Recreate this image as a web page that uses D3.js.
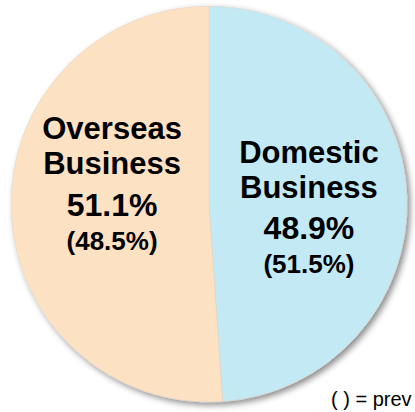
<!DOCTYPE html>
<html>
<head>
<meta charset="utf-8">
<script src="https://cdn.jsdelivr.net/npm/d3@7"></script>
<style>
  html, body { margin: 0; padding: 0; background: #ffffff; overflow: hidden; }
  svg { display: block; }
  text { font-family: "Liberation Sans", Arial, sans-serif; fill: #000; }
</style>
</head>
<body>
<svg id="chart" width="415" height="412"></svg>
<script>
// Sales composition by business segment, current year vs previous year
const segments = ["Domestic Business", "Overseas Business"];
const nameLines = [["Domestic", "Business"], ["Overseas", "Business"]];
const shares = [48.9, 51.1];
const prevShares = [51.5, 48.5];
const note = "( ) = prev";

const colors = { "Domestic Business": "#c3e9f5", "Overseas Business": "#fde1c3" };
// label block nudges (x, y of first baseline relative to slice centroid)
const labelNudge = { "Domestic Business": [0, -38], "Overseas Business": [3, -68] };

const width = 415, height = 412;
const cx = 209, cy = 204, radius = 198;

const svg = d3.select("#chart");

const defs = svg.append("defs");
const shadow = defs.append("filter")
  .attr("id", "pieShadow")
  .attr("x", "-10%").attr("y", "-10%")
  .attr("width", "125%").attr("height", "125%");
shadow.append("feDropShadow")
  .attr("dx", 3).attr("dy", 3)
  .attr("stdDeviation", 3)
  .attr("flood-color", "#000")
  .attr("flood-opacity", 0.45);

const data = segments.map((s, i) => ({ name: s, lines: nameLines[i], value: shares[i], prev: prevShares[i] }));

const pie = d3.pie().sort(null).value(d => d.value);
const arcs = pie(data);

const arc = d3.arc().innerRadius(0).outerRadius(radius);
const labelArc = d3.arc().innerRadius(100).outerRadius(100);

const g = svg.append("g").attr("transform", `translate(${cx},${cy})`);

g.append("g")
  .attr("filter", "url(#pieShadow)")
  .selectAll("path")
  .data(arcs)
  .join("path")
  .attr("d", arc)
  .attr("fill", d => colors[d.data.name])
  .attr("stroke", "#ddd3c8")
  .attr("stroke-width", 0.5);

const labels = g.selectAll("g.label")
  .data(arcs)
  .join("g")
  .attr("class", "label")
  .attr("transform", d => {
    const [x, y] = labelArc.centroid(d);
    const [nx, ny] = labelNudge[d.data.name];
    return `translate(${x + nx},${y + ny})`;
  });

labels.each(function (d) {
  const lg = d3.select(this);
  lg.append("text")
    .attr("text-anchor", "middle")
    .attr("y", 0)
    .style("font-size", "31px").style("font-weight", "bold")
    .text(d.data.lines[0]);
  lg.append("text")
    .attr("text-anchor", "middle")
    .attr("y", 35)
    .style("font-size", "31px").style("font-weight", "bold")
    .text(d.data.lines[1]);
  lg.append("text")
    .attr("text-anchor", "middle")
    .attr("y", 76.5)
    .style("font-size", "32px").style("font-weight", "bold")
    .text(d3.format(".1f")(d.data.value) + "%");
  lg.append("text")
    .attr("text-anchor", "middle")
    .attr("y", 110.5)
    .style("font-size", "26px").style("font-weight", "bold")
    .text("(" + d3.format(".1f")(d.data.prev) + "%)");
});

svg.append("text")
  .attr("x", 331)
  .attr("y", 406)
  .style("font-size", "20px")
  .text(note);
</script>
</body>
</html>
